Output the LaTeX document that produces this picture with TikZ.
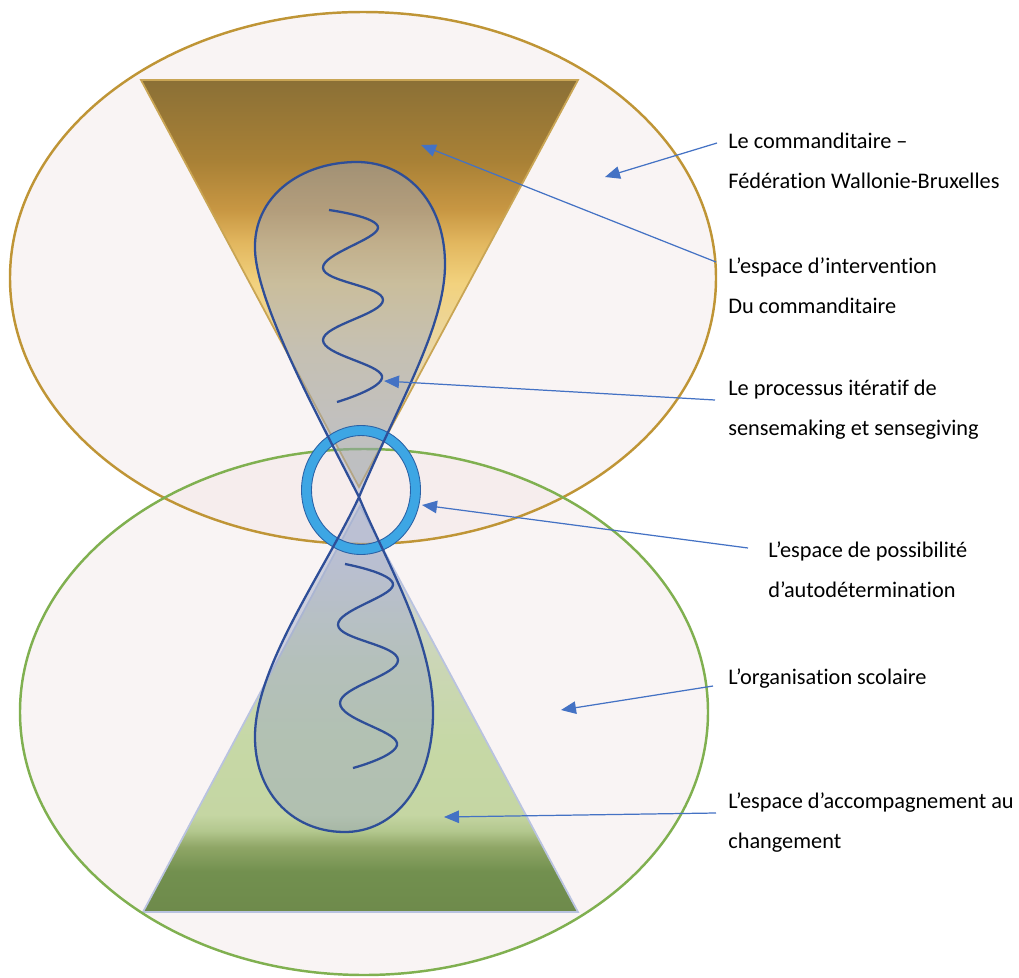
\documentclass[tikz,border=0pt]{standalone}
\usepackage{fontspec}
\setmainfont{Carlito}[Ligatures=NoCommon]
\usepackage{tikz}
\usetikzlibrary{calc,arrows.meta}

\definecolor{goldline}{HTML}{BF9536}
\definecolor{greenline}{HTML}{80B050}
\definecolor{loopblue}{HTML}{2E4E98}
\definecolor{loopfill}{HTML}{9AA6C2}
\definecolor{ringblue}{HTML}{3DA6E4}
\definecolor{ringedge}{HTML}{2A62A6}
\definecolor{arrowblue}{HTML}{4472C4}
\definecolor{blush}{HTML}{F1E3E3}
\definecolor{lavline}{HTML}{B9C3E0}

% shadings: the path box is mapped on 25bp--75bp
\pgfdeclareverticalshading{topcone}{100bp}{%
  color(0bp)=(rgb,255:red,218;green,211;blue,196);
  color(25bp)=(rgb,255:red,218;green,211;blue,196);
  color(33bp)=(rgb,255:red,226;green,215;blue,188);
  color(42bp)=(rgb,255:red,234;green,215;blue,166);
  color(50bp)=(rgb,255:red,242;green,210;blue,126);
  color(55bp)=(rgb,255:red,226;green,183;blue,95);
  color(59bp)=(rgb,255:red,200;green,151;blue,67);
  color(65bp)=(rgb,255:red,169;green,129;blue,54);
  color(75bp)=(rgb,255:red,139;green,112;blue,54);
  color(100bp)=(rgb,255:red,139;green,112;blue,54)}
\pgfdeclareverticalshading{bottomcone}{100bp}{%
  color(0bp)=(rgb,255:red,110;green,138;blue,75);
  color(25bp)=(rgb,255:red,110;green,138;blue,75);
  color(30bp)=(rgb,255:red,114;green,144;blue,79);
  color(33bp)=(rgb,255:red,143;green,166;blue,102);
  color(35bp)=(rgb,255:red,179;green,199;blue,142);
  color(37bp)=(rgb,255:red,197;green,214;blue,163);
  color(46bp)=(rgb,255:red,198;green,216;blue,166);
  color(56bp)=(rgb,255:red,203;green,214;blue,182);
  color(68bp)=(rgb,255:red,212;green,213;blue,222);
  color(75bp)=(rgb,255:red,218;green,216;blue,228);
  color(100bp)=(rgb,255:red,218;green,216;blue,228)}

\begin{document}
\begin{tikzpicture}[x=0.02cm, y=-0.02cm,
    field/.style = {fill=blush, fill opacity=0.4},
    rim/.style = {line width=1.4pt},
    cone/.style = {line width=1pt},
    strand/.style = {loopblue, line width=1.3pt},
    pointer/.style = {arrowblue, line width=0.7pt,
      -{Triangle[length=0.3cm, width=0.25cm]}},
    caption/.style = {anchor=north west, inner sep=0pt, align=left,
      font=\fontsize{12.7}{22.8}\selectfont}]
    \useasboundingbox (0,0) rectangle (1019,978);

    % sizes of the two fields (in pixels of the sheet)
    \pgfmathsetmacro{\topRx}{353}
    \pgfmathsetmacro{\topRy}{266}
    \pgfmathsetmacro{\botRx}{344}
    \pgfmathsetmacro{\botRy}{263}

    \coordinate (topfield) at (363,278);
    \coordinate (botfield) at (364,712);
    \coordinate (centre) at (359,497);

    % 1. the two fields
    \fill[field] (topfield) ellipse [x radius=\topRx, y radius=\topRy];
    \fill[field] (botfield) ellipse [x radius=\botRx, y radius=\botRy];

    % 2. the two cones
    \draw[cone, draw=goldline!85, shading=topcone]
      (141,80) -- (578,80) -- (359,487) -- cycle;
    \draw[cone, draw=lavline, shading=bottomcone]
      (360,506) -- (578,912) -- (143,912) -- cycle;

    % outlines of the fields go over the cones
    \draw[rim, goldline] (topfield) ellipse [x radius=\topRx, y radius=\topRy];
    \draw[rim, greenline] (botfield) ellipse [x radius=\botRx, y radius=\botRy];

    % 3. the loop (figure eight through the centre), first its filling
    \def\eightpath{(centre) .. controls (400,400) and (446,325) .. (445,262)
      .. controls (444,200) and (405,162) .. (357,162)
      .. controls (300,162) and (253,197) .. (255,250)
      .. controls (257,305) and (320,420) .. (centre)
      .. controls (385,560) and (434,640) .. (433,715)
      .. controls (432,785) and (395,833) .. (343,832)
      .. controls (290,831) and (254,790) .. (255,735)
      .. controls (256,665) and (325,570) .. (centre)}
    \fill[loopfill, fill opacity=0.45] \eightpath;

    % 4. the ring
    \draw[ringblue, line width=0.2cm] (361,490) ellipse [x radius=54.5, y radius=59.5];
    \draw[ringedge, line width=0.5pt] (361,490) ellipse [x radius=59.5, y radius=64.5];
    \draw[ringedge, line width=0.5pt] (361,490) ellipse [x radius=49.5, y radius=54.5];

    % the line of the loop goes over the ring
    \draw[strand] \eightpath;

    % the iterations
    \draw[strand] plot[smooth, tension=0.7] coordinates
      {(329,210) (378,228) (323,268) (383,300) (323,340) (382,376) (337,402)};
    \draw[strand] plot[smooth, tension=0.7] coordinates
      {(345,564) (393,585) (338,625) (398,660) (340,703) (397,743) (353,768)};

    % 5. captions
    \node[caption] (commanditaire) at (728,120)
      {\strut Le commanditaire –\\Fédération Wallonie-Bruxelles};
    \node[caption] (intervention) at (728,245)
      {\strut L’espace d’intervention\\Du commanditaire};
    \node[caption] (processus) at (728,367)
      {\strut Le processus itératif de\\sensemaking et sensegiving};
    \node[caption] (possibilite) at (768,529)
      {\strut L’espace de possibilité\\d’autodétermination};
    \node[caption] (organisation) at (728,656)
      {\strut L’organisation scolaire};
    \node[caption] (accompagnement) at (728,780)
      {\strut L’espace d’accompagnement au\\changement};

    % 6. pointers
    \coordinate (fromCommanditaire) at (717,143);
    \coordinate (fromIntervention) at (716,262);
    \coordinate (fromProcessus) at (715,400);
    \coordinate (fromPossibilite) at (748,548);
    \coordinate (fromOrganisation) at (713,686);
    \coordinate (fromAccompagnement) at (716,813);

    \draw[pointer] (fromCommanditaire) -- (605,177) coordinate (onField);
    \draw[pointer] (fromIntervention) -- (421,145) coordinate (onCone);
    \draw[pointer] (fromProcessus) -- (384,381) coordinate (onLoop);
    \draw[pointer] (fromPossibilite) -- (422,505) coordinate (onRing);
    \draw[pointer] (fromOrganisation) -- (561,710) coordinate (onSchool);
    \draw[pointer] (fromAccompagnement) -- (444,817) coordinate (onSupport);
\end{tikzpicture}
\end{document}
